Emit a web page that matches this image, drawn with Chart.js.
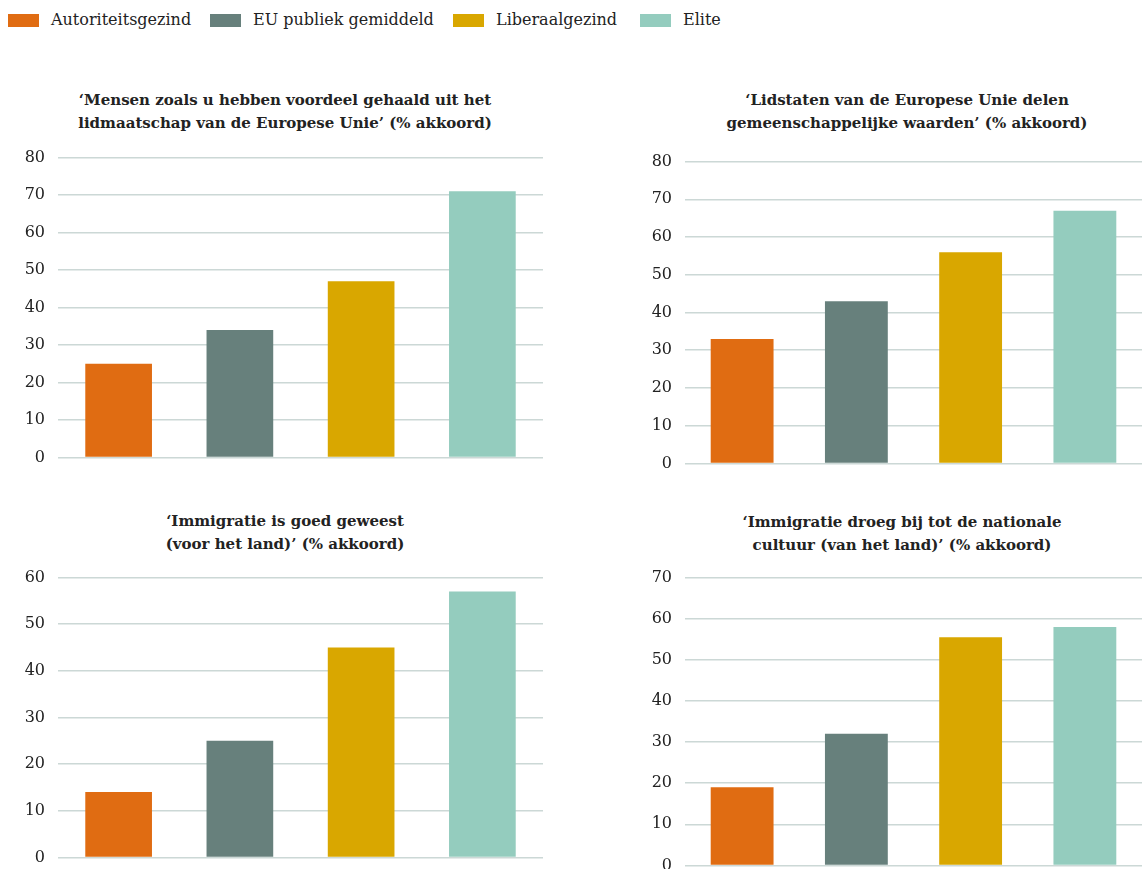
<!DOCTYPE html>
<html lang="nl">
<head>
<meta charset="utf-8">
<title>Autoriteitsgezind, liberaalgezind en elite</title>
<script src="https://cdn.jsdelivr.net/npm/chart.js@4.4.1/dist/chart.umd.min.js"></script>
<style>
    body {
        margin: 0;
        width: 1142px;
        height: 869px;
        overflow: hidden;
        background: #fff;
        position: relative;
        font-family: "DejaVu Serif", "Liberation Serif", serif;
        color: #222;
    }
    .legend {
        position: absolute;
        left: 0;
        top: 9px;
        width: 1142px;
        height: 22px;
        font-size: 16px;
        line-height: 22px;
    }
    .legend .item { position: absolute; top: 0; display: flex; align-items: center; white-space: nowrap; }
    .legend .box { width: 31px; height: 13px; margin-right: 12px; }
    .title {
        position: absolute;
        width: 500px;
        text-align: center;
        font-weight: bold;
        font-size: 15px;
        line-height: 23px;
    }
    .plot { position: absolute; }
</style>
</head>
<body>

<div class="legend" id="legend"></div>

<div class="title" style="left:35px; top:89px;">‘Mensen zoals u hebben voordeel gehaald uit het<br>lidmaatschap van de Europese Unie’ (% akkoord)</div>
<div class="title" style="left:657px; top:89px;">‘Lidstaten van de Europese Unie delen<br>gemeenschappelijke waarden’ (% akkoord)</div>
<div class="title" style="left:35px; top:510px;">‘Immigratie is goed geweest<br>(voor het land)’ (% akkoord)</div>
<div class="title" style="left:652px; top:511px;">‘Immigratie droeg bij tot de nationale<br>cultuur (van het land)’ (% akkoord)</div>

<canvas class="plot" id="chartEuBenefit" width="521" height="345" style="left:22px; top:135px;"></canvas>
<canvas class="plot" id="chartSharedValues" width="495" height="347" style="left:647px; top:139px;"></canvas>
<canvas class="plot" id="chartImmigrationGood" width="521" height="325" style="left:22px; top:555px;"></canvas>
<canvas class="plot" id="chartImmigrationCulture" width="495" height="333" style="left:647px; top:555px;"></canvas>

<script>
// Groups (same order in every panel)
const categories = ['Autoriteitsgezind', 'EU publiek gemiddeld', 'Liberaalgezind', 'Elite'];
const barColors = ['#E06C12', '#67807C', '#D9A700', '#94CCBE'];

// % akkoord per panel
const euBenefit = [25, 34, 47, 71];
const sharedValues = [33, 43, 56, 67];
const immigrationGood = [14, 25, 45, 57];
const immigrationCulture = [19, 32, 55.5, 58];

// y-axis maximum per panel (ticks every 10)
const axisMax = [80, 80, 60, 70];
const tickStep = 10;

const GRID_COLOR = '#CCD8D6';
const FONT_FAMILY = '"DejaVu Serif", "Liberation Serif", serif';
// left edge of each legend entry (px)
const LEGEND_LEFT = [8, 210, 453, 640];

document.addEventListener('DOMContentLoaded', function() {
    buildLegend();

    initBarChart('chartEuBenefit', euBenefit, axisMax[0], 36);
    initBarChart('chartSharedValues', sharedValues, axisMax[1], 38);
    initBarChart('chartImmigrationGood', immigrationGood, axisMax[2], 36);
    initBarChart('chartImmigrationCulture', immigrationCulture, axisMax[3], 38);
});

function buildLegend() {
    const legend = document.getElementById('legend');
    categories.forEach((label, i) => {
        const item = document.createElement('div');
        item.className = 'item';
        item.style.left = LEGEND_LEFT[i] + 'px';
        item.innerHTML = '<span class="box" style="background:' + barColors[i] + '"></span><span>' + label + '</span>';
        legend.appendChild(item);
    });
}

function initBarChart(canvasId, values, yMax, axisWidth) {
    const ctx = document.getElementById(canvasId);
    if (!ctx) return;

    new Chart(ctx, {
        type: 'bar',
        data: {
            labels: categories,
            datasets: [{
                data: values,
                backgroundColor: barColors,
                borderWidth: 0,
                barPercentage: 0.55,
                categoryPercentage: 1.0
            }]
        },
        options: {
            responsive: false,
            animation: false,
            layout: { padding: 0 },
            scales: {
                x: {
                    display: false
                },
                y: {
                    min: 0,
                    max: yMax,
                    border: { display: false },
                    grid: {
                        color: GRID_COLOR,
                        lineWidth: 1.5,
                        drawTicks: false
                    },
                    ticks: {
                        stepSize: tickStep,
                        padding: 13,
                        color: '#222',
                        font: { family: FONT_FAMILY, size: 16 }
                    },
                    afterFit: function(scale) {
                        scale.width = axisWidth;
                    }
                }
            },
            plugins: {
                legend: { display: false },
                tooltip: { enabled: false }
            }
        }
    });
}
</script>
</body>
</html>
